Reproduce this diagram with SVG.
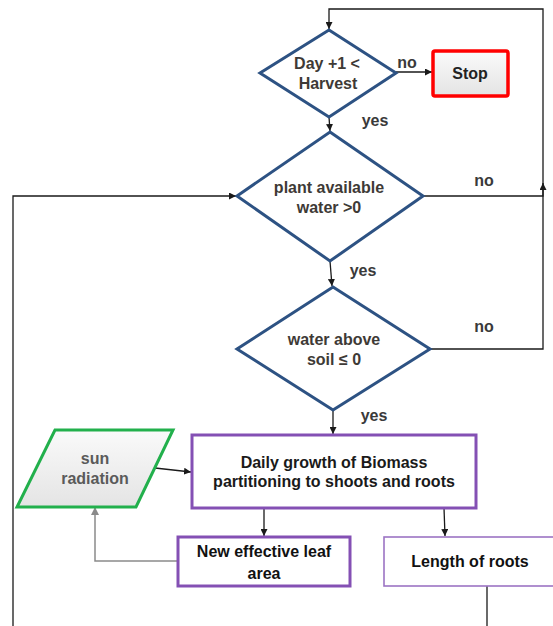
<svg xmlns="http://www.w3.org/2000/svg" width="553" height="626" viewBox="0 0 553 626">
<style>
.bg{fill:#ffffff}
.dia{fill:#ffffff;stroke:#2d5283;stroke-width:3;stroke-linejoin:miter}
.t{font-family:"Liberation Sans",Arial,sans-serif;font-size:16px;font-weight:bold;text-anchor:middle}
.dt{fill:#3e3a36}
.lbl{fill:#3a3a3a}
.box{fill:#ffffff;stroke:#8450b4;stroke-width:3}
.thin{fill:#ffffff;stroke:#9c74c4;stroke-width:1.6}
.con{fill:none;stroke:#1a1a1a;stroke-width:1.3}
.gcon{fill:none;stroke:#8a8a8a;stroke-width:1.5}
</style>
<defs>
<marker id="ah" viewBox="0 0 10 10" refX="10" refY="5" markerWidth="7" markerHeight="7" markerUnits="userSpaceOnUse" orient="auto">
<path d="M0,0 L10,5 L0,10 z" fill="#1a1a1a"/>
</marker>
<marker id="gah" viewBox="0 0 10 10" refX="10" refY="5" markerWidth="8" markerHeight="8" markerUnits="userSpaceOnUse" orient="auto">
<path d="M0,0 L10,5 L0,10 z" fill="#8a8a8a"/>
</marker>
<linearGradient id="gfill" x1="0" y1="0" x2="0" y2="1">
<stop offset="0" stop-color="#fafafa"/>
<stop offset="1" stop-color="#e4e4e4"/>
</linearGradient>
</defs>
<rect class="bg" x="0" y="0" width="553" height="626"/>

<g id="connectors">
<path class="con" d="M423,196 H543 V9 H329 V29" marker-end="url(#ah)"/>
<path class="con" d="M430,349 H543 V183" marker-end="url(#ah)"/>
<path class="con" d="M396,72 H432" marker-end="url(#ah)"/>
<path class="con" d="M329,117 L330,131" marker-end="url(#ah)"/>
<path class="con" d="M330,261 L332,286" marker-end="url(#ah)"/>
<path class="con" d="M333,410 V434" marker-end="url(#ah)"/>
<path class="con" d="M13,626 V196 H236" marker-end="url(#ah)"/>
<path class="con" d="M155,468 L191,472" marker-end="url(#ah)"/>
<path class="con" d="M264,508 V536" marker-end="url(#ah)"/>
<path class="con" d="M444,508 L445,536" marker-end="url(#ah)"/>
<path class="gcon" d="M178,561 H95 V507" marker-end="url(#gah)"/>
<path class="con" d="M487,586 V626"/>
<text class="t lbl" x="407" y="68">no</text>
<text class="t lbl" x="375" y="126">yes</text>
<text class="t lbl" x="484" y="186">no</text>
<text class="t lbl" x="363" y="276">yes</text>
<text class="t lbl" x="484" y="332">no</text>
<text class="t lbl" x="374" y="421">yes</text>
</g>

<g id="decision-harvest">
<polygon class="dia" points="329,30 396,73 329,117 260,73"/>
<text class="t dt" x="327" y="69">Day +1 &lt;</text>
<text class="t dt" x="328" y="89">Harvest</text>
</g>

<g id="stop">
<rect x="433" y="51" width="75" height="45" rx="2" fill="url(#gfill)" stroke="#ff0000" stroke-width="3.5"/>
<text class="t" x="470" y="79" fill="#222222">Stop</text>
</g>

<g id="decision-water">
<polygon class="dia" points="330,132 423,196 330,261 237,196"/>
<text class="t dt" x="329" y="193">plant available</text>
<text class="t dt" x="329" y="213">water &gt;0</text>
</g>

<g id="decision-soil">
<polygon class="dia" points="333,287 430,349 333,410 237,349"/>
<text class="t dt" x="334" y="345">water above</text>
<text class="t dt" x="334" y="365">soil ≤ 0</text>
</g>

<g id="sun-radiation">
<polygon points="55,430 173,430 136,507 17,507" fill="url(#gfill)" stroke="#22b04c" stroke-width="3"/>
<text class="t" x="95" y="464" fill="#5a5a5a">sun</text>
<text class="t" x="95" y="484" fill="#5a5a5a">radiation</text>
</g>

<g id="daily-growth">
<rect class="box" x="192" y="435" width="284" height="73"/>
<text class="t" x="334" y="468" fill="#1a1a1a">Daily growth of Biomass</text>
<text class="t" x="334" y="487" fill="#1a1a1a">partitioning to shoots and roots</text>
</g>

<g id="leaf-area">
<rect class="box" x="178" y="537" width="172" height="49" stroke-width="3.5"/>
<text class="t" x="264" y="557" fill="#111111">New effective leaf</text>
<text class="t" x="264" y="579" fill="#111111">area</text>
</g>

<g id="root-length">
<rect class="thin" x="384" y="537" width="172" height="49"/>
<text class="t" x="470" y="567" fill="#111111">Length of roots</text>
</g>
</svg>
